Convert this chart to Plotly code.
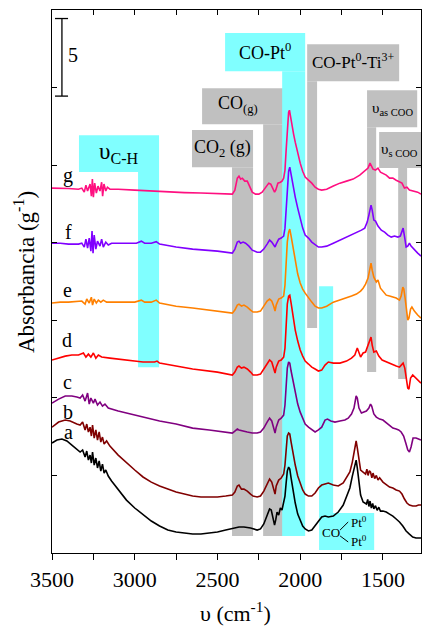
import plotly.graph_objects as go

# ---------------- data ----------------
wn_g = [3500,3450,3400,3340,3320,3305,3295,3285,3270,3262,3256,3250,3242,3232,3222,3210,3200,3194,3186,3175,3165,3150,3100,3000,2900,2800,2700,2600,2500,2410,2395,2380,2370,2360,2350,2335,2320,2305,2290,2270,2250,2230,2210,2190,2178,2165,2155,2148,2135,2120,2110,2100,2092,2085,2078,2070,2065,2058,2050,2040,2030,2015,2000,1985,1970,1950,1930,1910,1890,1870,1840,1800,1760,1720,1680,1640,1610,1590,1578,1570,1560,1545,1530,1515,1500,1480,1460,1440,1420,1400,1385,1370,1355,1340,1310,1290,1270]
ab_g = [23.52,23.52,23.49,23.45,23.52,23.26,23.71,23.33,23.78,23.0,24.1,22.94,23.84,23.2,23.65,23.33,23.9,23.0,23.78,23.33,23.58,23.45,23.45,23.39,23.33,23.3,23.23,23.2,23.16,23.13,23.39,24.16,24.29,24.1,24.16,23.97,23.97,23.58,23.26,23.13,23.13,23.26,23.58,23.84,23.78,23.52,23.26,23.39,23.84,23.9,23.97,24.16,24.68,25.97,27.45,28.41,28.54,28.03,27.58,27.0,26.48,25.77,25.13,24.61,24.23,24.03,23.84,23.58,23.45,23.39,23.45,23.65,23.84,23.97,24.1,24.36,24.61,24.81,25.13,24.94,24.74,24.68,24.81,24.55,24.48,24.36,24.16,24.16,24.03,23.9,23.84,23.52,23.58,23.39,23.33,23.26,23.13]

wn_f = [3500,3450,3400,3340,3320,3305,3295,3285,3275,3265,3258,3252,3245,3235,3225,3210,3200,3190,3175,3160,3140,3050,2990,2960,2940,2900,2870,2850,2750,2650,2500,2410,2395,2380,2370,2360,2345,2330,2310,2290,2260,2240,2220,2200,2185,2172,2160,2152,2145,2130,2115,2100,2092,2085,2078,2070,2063,2055,2045,2030,2015,2000,1985,1970,1950,1930,1910,1890,1870,1840,1800,1760,1720,1690,1660,1630,1610,1595,1585,1572,1565,1555,1545,1530,1510,1490,1470,1450,1430,1410,1395,1385,1378,1368,1360,1350,1340,1330,1310,1290,1270]
ab_f = [19.97,19.97,19.91,19.91,19.97,19.72,20.23,19.65,20.3,19.46,20.75,19.33,20.49,19.59,20.1,19.78,20.23,19.72,20.04,19.85,19.97,19.97,19.97,20.1,19.97,19.97,20.07,19.91,19.72,19.59,19.46,19.33,19.59,20.04,20.1,19.97,20.04,19.97,19.78,19.52,19.39,19.39,19.59,19.91,20.17,20.04,19.85,19.72,19.91,20.23,20.3,20.43,20.94,22.1,23.52,24.61,24.87,24.36,23.71,22.94,22.23,21.52,20.94,20.49,20.3,20.04,19.85,19.72,19.72,19.78,19.97,20.17,20.36,20.49,20.62,20.81,20.94,21.33,21.78,22.42,22.1,21.46,21.39,21.07,20.81,20.68,20.49,20.36,20.43,20.36,20.43,20.81,20.94,20.3,19.72,19.78,19.97,19.78,19.52,19.33,19.14]

wn_e = [3500,3450,3400,3340,3320,3300,3290,3275,3262,3255,3245,3232,3220,3205,3190,3170,3150,3100,3000,2960,2940,2900,2870,2850,2750,2650,2500,2410,2395,2380,2370,2355,2340,2320,2300,2285,2260,2240,2220,2200,2185,2172,2160,2152,2145,2130,2115,2100,2092,2085,2078,2070,2063,2055,2045,2030,2015,2000,1985,1970,1950,1930,1910,1890,1870,1840,1800,1760,1720,1690,1660,1635,1620,1605,1590,1580,1572,1565,1555,1540,1530,1515,1500,1480,1460,1440,1420,1400,1390,1380,1374,1366,1358,1350,1343,1333,1325,1310,1290,1270]
ab_e = [16.11,16.17,16.17,16.24,16.24,16.04,16.37,16.11,16.49,15.98,16.37,16.11,16.3,16.17,16.3,16.17,16.17,16.17,16.17,16.3,16.17,16.17,16.3,16.11,15.91,15.79,15.59,15.46,15.66,15.98,16.04,15.91,15.98,15.85,15.66,15.53,15.53,15.59,15.91,16.24,16.37,16.24,15.91,15.59,15.98,16.37,16.43,16.56,17.27,18.75,20.04,20.68,20.88,20.43,19.85,18.75,17.98,17.4,17.01,16.75,16.43,16.17,15.91,15.79,15.79,15.91,16.17,16.3,16.43,16.56,16.69,16.88,17.07,17.33,17.72,18.36,18.69,18.23,17.78,17.46,17.59,17.07,16.88,16.62,16.56,16.49,16.43,16.3,16.56,17.14,17.01,16.43,15.66,15.01,15.14,15.72,15.85,15.59,15.34,15.14]

wn_d = [3500,3460,3420,3380,3340,3310,3295,3280,3265,3250,3235,3220,3200,3150,3050,2980,2950,2880,2865,2850,2750,2650,2500,2410,2395,2380,2370,2355,2340,2320,2300,2285,2260,2240,2220,2200,2185,2172,2160,2152,2145,2130,2115,2100,2092,2085,2078,2070,2063,2055,2045,2030,2015,2000,1985,1970,1950,1930,1910,1890,1870,1850,1830,1800,1760,1720,1690,1670,1655,1645,1635,1620,1605,1590,1580,1572,1565,1555,1540,1525,1505,1480,1450,1420,1400,1388,1378,1368,1358,1350,1343,1333,1320,1300,1285,1270]
ab_d = [12.44,12.56,12.69,12.76,12.76,12.89,12.63,12.82,12.63,12.89,12.56,12.76,12.63,12.56,12.44,12.31,12.31,12.31,12.37,12.24,12.05,11.86,11.66,11.47,11.66,11.98,12.05,11.92,11.98,11.86,11.66,11.47,11.47,11.53,11.86,12.24,12.44,12.31,11.92,11.6,11.98,12.37,12.44,12.63,13.21,14.69,16.04,16.56,16.62,16.11,15.4,14.37,13.66,13.08,12.69,12.37,12.18,11.98,11.86,11.73,11.79,12.11,12.31,12.24,12.24,12.37,12.56,12.76,13.21,12.89,12.63,12.89,12.95,13.4,13.72,13.92,13.4,12.95,13.02,12.69,12.44,12.31,12.18,12.05,11.98,12.11,12.24,11.92,11.28,10.63,10.57,11.28,11.47,11.28,11.15,10.95]

wn_c = [3500,3460,3420,3380,3350,3330,3315,3300,3285,3275,3265,3250,3240,3225,3210,3195,3180,3160,3100,3050,3000,2950,2900,2850,2750,2650,2550,2410,2395,2380,2370,2350,2320,2290,2260,2240,2220,2200,2185,2172,2160,2152,2145,2130,2115,2100,2092,2085,2078,2070,2063,2055,2045,2030,2015,2000,1985,1970,1950,1930,1910,1890,1870,1850,1835,1815,1790,1760,1730,1710,1690,1675,1662,1655,1645,1630,1615,1600,1585,1575,1568,1555,1540,1520,1500,1480,1460,1440,1420,1405,1390,1375,1362,1350,1340,1330,1318,1300,1285,1270]
ab_c = [9.66,9.92,10.12,10.12,10.05,9.99,10.18,9.79,10.31,9.6,9.99,9.66,9.92,9.54,9.73,9.47,9.6,9.34,9.15,9.02,8.89,8.76,8.63,8.51,8.31,8.05,7.93,7.73,7.86,7.99,7.93,7.86,7.8,7.73,7.73,7.8,8.05,8.44,8.69,8.51,8.05,7.73,8.11,8.57,8.69,8.89,9.54,10.82,11.92,12.31,12.24,11.73,11.15,10.37,9.6,9.08,8.63,8.31,8.11,7.93,7.8,7.93,8.11,8.57,8.63,8.51,8.44,8.51,8.57,8.69,8.96,9.34,10.12,9.99,9.34,9.02,9.08,9.15,9.34,9.6,9.47,8.96,8.76,8.63,8.57,8.38,8.18,8.05,7.99,7.93,7.8,7.54,7.09,6.64,6.51,6.83,7.41,7.41,7.35,7.28]

wn_b = [3500,3460,3420,3390,3350,3330,3315,3300,3290,3280,3270,3262,3255,3245,3235,3225,3215,3205,3195,3185,3170,3150,3100,3050,3000,2950,2900,2850,2800,2750,2700,2650,2600,2550,2500,2450,2410,2395,2380,2370,2355,2340,2320,2300,2285,2260,2240,2220,2200,2185,2172,2160,2152,2145,2130,2115,2100,2092,2085,2078,2070,2063,2055,2045,2030,2015,2000,1985,1970,1950,1930,1910,1890,1870,1850,1830,1800,1770,1740,1720,1700,1685,1672,1662,1655,1645,1635,1620,1605,1597,1590,1582,1575,1567,1560,1550,1540,1530,1520,1500,1480,1460,1440,1420,1400,1385,1370,1355,1340,1320,1300,1285,1270]
ab_b = [8.11,8.44,8.57,8.51,8.31,8.25,8.44,7.93,8.31,7.8,8.11,7.54,8.25,7.41,7.93,7.28,7.8,7.15,7.47,7.02,7.22,6.89,6.31,5.8,5.35,4.9,4.57,4.32,4.12,3.93,3.8,3.67,3.61,3.61,3.61,3.67,3.74,3.93,4.32,4.38,4.12,4.12,3.99,3.8,3.67,3.61,3.67,3.99,4.45,4.77,4.57,4.12,3.8,4.32,4.7,4.83,5.09,5.67,6.77,7.54,7.73,7.67,7.15,6.51,5.67,4.96,4.45,4.06,3.8,3.67,3.67,3.87,4.19,4.38,4.45,4.51,4.38,4.32,4.51,4.83,5.22,5.86,6.64,7.22,6.77,5.86,5.35,5.22,5.09,5.4,5.0,5.3,5.22,4.85,5.15,4.8,5.0,4.7,4.85,4.57,4.38,4.25,4.19,4.06,3.99,3.8,3.48,3.22,3.09,3.03,3.03,3.09,3.09]

wn_a = [3500,3470,3440,3410,3380,3350,3330,3315,3300,3290,3280,3270,3262,3255,3245,3235,3225,3215,3205,3195,3185,3175,3160,3140,3100,3050,3000,2950,2900,2850,2800,2750,2700,2650,2600,2550,2500,2450,2400,2370,2340,2300,2260,2240,2220,2200,2185,2175,2165,2155,2148,2140,2130,2120,2110,2100,2092,2085,2078,2070,2063,2055,2045,2030,2015,2000,1985,1970,1950,1930,1910,1890,1870,1850,1830,1800,1770,1740,1720,1700,1685,1672,1662,1655,1645,1635,1620,1600,1592,1585,1578,1570,1562,1555,1545,1535,1525,1515,1500,1480,1460,1440,1420,1400,1380,1360,1340,1320,1300,1270]
ab_a = [7.09,7.28,7.35,7.22,6.96,6.7,6.51,6.64,6.19,6.57,5.99,6.31,5.8,6.51,5.67,6.12,5.48,5.93,5.28,5.73,5.15,5.35,4.96,4.64,4.06,3.41,2.9,2.45,2.06,1.74,1.48,1.35,1.29,1.22,1.22,1.29,1.35,1.48,1.61,1.68,1.68,1.61,1.48,1.55,1.87,2.45,2.84,2.77,2.26,1.8,2.13,2.64,2.45,2.9,2.77,3.22,3.67,4.51,5.28,5.54,5.41,4.83,4.06,3.22,2.51,2.06,1.74,1.55,1.42,1.48,1.74,2.06,2.32,2.38,2.32,2.38,2.64,3.09,3.61,4.19,4.96,5.67,5.99,5.48,4.57,3.74,3.29,3.16,3.45,3.0,3.35,2.9,3.2,2.85,3.05,2.75,2.95,2.7,2.71,2.64,2.51,2.38,2.19,2.0,1.74,1.42,1.22,1.03,0.97,0.97]

curve_names = ["a", "b", "c", "d", "e", "f", "g"]
curve_colors = ["#000000", "#800000", "#800080", "#FF0000", "#FF8000", "#8000FF", "#FF0F80"]
curve_wn = [wn_a, wn_b, wn_c, wn_d, wn_e, wn_f, wn_g]
curve_ab = [ab_a, ab_b, ab_c, ab_d, ab_e, ab_f, ab_g]
# curve letter label positions (wavenumber, absorbance)
label_wn = [3403, 3403, 3409, 3409, 3409, 3403, 3403]
label_ab = [7.8, 9.09, 11.02, 13.72, 16.95, 20.68, 24.36]

x_major = 500      # labelled tick step (cm-1)
x_minor = 250      # unlabelled tick step (cm-1)
x_range = [3500, 1270]
y_range = [0, 35]
y_step = 5

GRAY = "#C0C0C0"
CYAN = "#80FFFF"
# shaded assignment bands: (wn_start, wn_end, abs_bottom, abs_top, colour)
bands = [
    (2412, 2285, 1.10, 24.87, GRAY), (2654, 2285, 24.87, 27.26, GRAY),      # CO2 (g)
    (2224, 2103, 1.10, 27.64, GRAY), (2593, 2103, 27.64, 29.96, GRAY),      # CO(g)
    (1958, 1898, 14.5, 30.41, GRAY), (1958, 1402, 30.41, 32.80, GRAY),      # CO-Pt-Ti
    (1596, 1541, 11.66, 27.45, GRAY), (1596, 1293, 27.45, 29.83, GRAY),     # vas COO
    (1408, 1354, 11.21, 24.81, GRAY), (1523, 1270, 24.81, 27.13, GRAY),     # vs COO
    (2109, 1970, 1.10, 31.06, CYAN), (2454, 1970, 31.06, 33.51, CYAN),      # CO-Pt0
    (2980, 2853, 11.98, 24.55, CYAN), (3337, 2853, 24.55, 26.93, CYAN),     # vC-H
    (1886, 1801, 2.58, 17.2, CYAN), (1886, 1553, 0.19, 2.58, CYAN),         # bridged CO
]

# band texts: (text, wn, abs, font size)
band_texts = [
    ("CO-Pt<sup>0</sup>", 2212, 32.35, 18),
    ("CO-Pt<sup>0</sup>-Ti<sup>3+</sup>", 1680, 31.7, 17),
    ("CO<sub>(g)</sub>", 2375, 28.9, 18),
    ("CO<sub>2</sub> (g)", 2472, 26.1, 18),
    ("υ<sub>C-H</sub>", 3101, 25.8, 23),
    ("υ<sub>as COO</sub>", 1444, 28.6, 15),
    ("υ<sub>s COO</sub>", 1402, 26.0, 15),
    ("CO", 1813, 1.35, 13),
    ("Pt<sup>0</sup>", 1644, 2.0, 13),
    ("Pt<sup>0</sup>", 1644, 0.75, 13),
]
# small bond strokes of the bridged-CO sketch: (wn0, ab0, wn1, ab1)
bond_strokes = [(1759, 1.48, 1710, 2.0), (1759, 1.10, 1710, 0.71)]

# scale bar: 5 absorbance units
scale_wn = 3440
scale_cap = (3482, 3403)
scale_low, scale_high = 29.45, 34.45
scale_text = "5"

FONT = "Times New Roman, Liberation Serif, serif"

fig = go.Figure()
for name, col, wn, ab in zip(curve_names, curve_colors, curve_wn, curve_ab):
    fig.add_trace(go.Scatter(x=wn, y=ab, mode="lines", name=name,
                             line=dict(color=col, width=1.6), showlegend=False))

# dummy trace carrying the mirrored top axis
fig.add_trace(go.Scatter(x=[x_range[0]], y=[y_range[0]], xaxis="x2", mode="markers",
                         marker=dict(opacity=0), showlegend=False, hoverinfo="skip"))

shapes = []
for x0, x1, y0, y1, c in bands:
    shapes.append(dict(type="rect", xref="x", yref="y", x0=x0, x1=x1, y0=y0, y1=y1,
                       fillcolor=c, line=dict(width=0), layer="below"))
for x0, y0, x1, y1 in bond_strokes:
    shapes.append(dict(type="line", xref="x", yref="y", x0=x0, y0=y0, x1=x1, y1=y1,
                       line=dict(color="black", width=1)))
shapes.append(dict(type="line", xref="x", yref="y", x0=scale_wn, x1=scale_wn,
                   y0=scale_low, y1=scale_high, line=dict(color="black", width=1.3)))
for yy in (scale_low, scale_high):
    shapes.append(dict(type="line", xref="x", yref="y", x0=scale_cap[0], x1=scale_cap[1],
                       y0=yy, y1=yy, line=dict(color="black", width=1.3)))

annotations = []
for name, xw, ya in zip(curve_names, label_wn, label_ab):
    annotations.append(dict(x=xw, y=ya, xref="x", yref="y", text=name, showarrow=False,
                            font=dict(family=FONT, size=20, color="black")))
for t, xw, ya, fs in band_texts:
    annotations.append(dict(x=xw, y=ya, xref="x", yref="y", text=t, showarrow=False,
                            font=dict(family=FONT, size=fs, color="black")))
annotations.append(dict(x=3373, y=32.1, xref="x", yref="y", text=scale_text, showarrow=False,
                        font=dict(family=FONT, size=20, color="black")))
annotations.append(dict(x=-0.073, y=0.5175, xref="paper", yref="paper", textangle=-90,
                        xanchor="center", yanchor="middle",
                        text="Absorbancia (g<sup>-1</sup>)", showarrow=False,
                        font=dict(family=FONT, size=23, color="black")))
annotations.append(dict(x=0.496, y=-0.1087, xref="paper", yref="paper",
                        xanchor="center", yanchor="middle",
                        text="υ (cm<sup>-1</sup>)", showarrow=False,
                        font=dict(family=FONT, size=22, color="black")))

fig.update_layout(
    width=422, height=629,
    margin=dict(l=52, r=1, t=10, b=76, autoexpand=False),
    paper_bgcolor="white", plot_bgcolor="white",
    font=dict(family=FONT, size=22, color="black"),
    shapes=shapes, annotations=annotations,
    xaxis=dict(range=x_range, tick0=3500, dtick=x_major, ticks="outside",
               ticklen=6, tickwidth=1, tickcolor="black", showline=True, linecolor="black",
               linewidth=1.2, mirror=True, showgrid=False, zeroline=False, automargin=False,
               minor=dict(dtick=x_minor, tick0=3500, ticks="outside", ticklen=6,
                          tickwidth=1, tickcolor="black", showgrid=False),
               tickfont=dict(family=FONT, size=22, color="black")),
    xaxis2=dict(range=x_range, tick0=3500, dtick=x_minor, ticks="inside", ticklen=5, tickwidth=1,
                tickcolor="black", overlaying="x", side="top", anchor="y", automargin=False,
                showticklabels=False, showgrid=False, zeroline=False, showline=False),
    yaxis=dict(range=y_range, dtick=y_step, tick0=0, ticks="inside", ticklen=5, tickwidth=1,
               tickcolor="black", showticklabels=False, showline=True, linecolor="black",
               linewidth=1.2, mirror="ticks", showgrid=False, zeroline=False, automargin=False),
)

fig.write_html("out.html", config={"displayModeBar": False},
               post_script="document.body.style.margin='0';document.body.style.overflow='hidden';")
